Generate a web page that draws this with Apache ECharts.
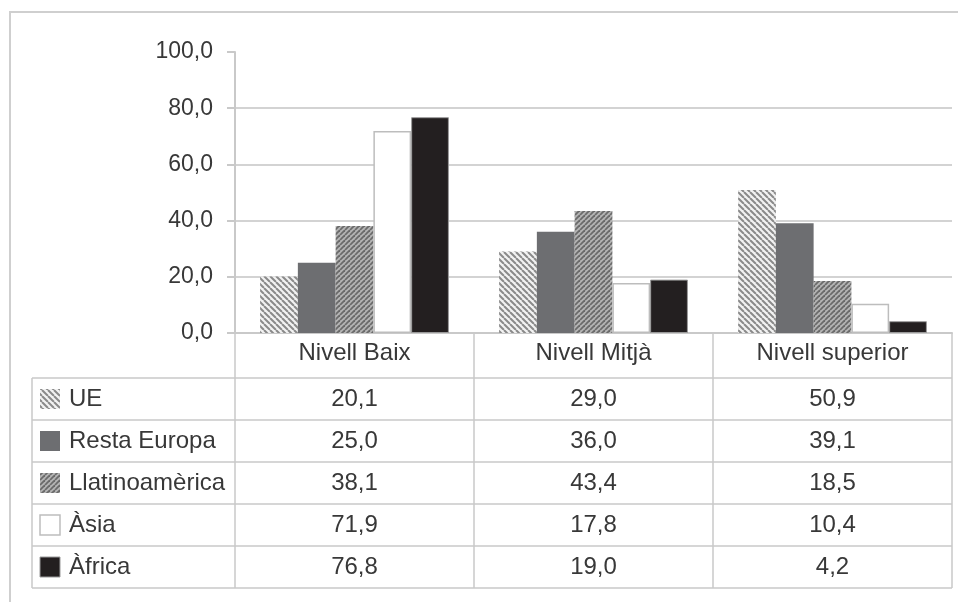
<!DOCTYPE html>
<html><head><meta charset="utf-8">
<script src="https://cdn.jsdelivr.net/npm/echarts@6/dist/echarts.min.js"></script>
<style>html,body{margin:0;padding:0;background:#fff}#c{width:958px;height:602px}</style>
</head><body><div id="c"></div>
<script>
// ---- data ----
const categories = ['Nivell Baix', 'Nivell Mitjà', 'Nivell superior'];
const seriesNames = ['UE', 'Resta Europa', 'Llatinoamèrica', 'Àsia', 'Àfrica'];
const ue = [20.1, 29.0, 50.9];
const restaEuropa = [25.0, 36.0, 39.1];
const llatinoamerica = [38.1, 43.4, 18.5];
const asia = [71.9, 17.8, 10.4];
const africa = [76.8, 19.0, 4.2];
const yMin = 0, yMax = 100, yStep = 20;

// ---- styles ----
const FONT = "'Liberation Sans', Arial, sans-serif";
const TXT = '#383838';
const LINE = '#c9c9c9';
const FS_TABLE = 24, FS_AXIS = 23;

function hatch(size, bg, fg, lw, dir) {
  const c = document.createElement('canvas');
  c.width = size; c.height = size;
  const g = c.getContext('2d');
  g.fillStyle = bg; g.fillRect(0, 0, size, size);
  g.strokeStyle = fg; g.lineWidth = lw;
  for (let k = -1; k <= 1; k++) {
    g.beginPath();
    if (dir === '\\') { g.moveTo(k * size, 0); g.lineTo(k * size + size, size); }
    else { g.moveTo(k * size + size, 0); g.lineTo(k * size, size); }
    g.stroke();
  }
  return { image: c, repeat: 'repeat' };
}
const styles = [
  { color: hatch(6, '#f2f2f2', '#8a8a8a', 2, '\\'), borderColor: 'transparent', borderWidth: 0 },
  { color: '#6d6e71', borderColor: 'transparent', borderWidth: 0 },
  { color: hatch(5, '#b4b4b4', '#6a6a6a', 1.8, '/'), borderColor: 'transparent', borderWidth: 0 },
  { color: '#ffffff', borderColor: '#bdbdbd', borderWidth: 1.5 },
  { color: '#231f20', borderColor: '#9a9a9a', borderWidth: 1 }
];
const seriesData = [ue, restaEuropa, llatinoamerica, asia, africa];

const GRID = { left: 235, right: 6, top: 52, bottom: 269 };
const TABLE_TOP = 378, ROW_H = 42, TABLE_LEFT = 32;
const TABLE_BOTTOM = TABLE_TOP + ROW_H * seriesNames.length;

const chart = echarts.init(document.getElementById('c'), null, { renderer: 'canvas' });
const fmt = v => v.toFixed(1).replace('.', ',');

chart.setOption({
  animation: false,
  backgroundColor: '#fff',
  grid: GRID,
  xAxis: {
    type: 'category', data: categories,
    axisLine: { lineStyle: { color: LINE, width: 2 } },
    axisTick: { show: true, length: TABLE_BOTTOM - (602 - GRID.bottom), lineStyle: { color: LINE, width: 1.5 } },
    axisLabel: { margin: 8, fontSize: FS_TABLE, fontFamily: FONT, color: TXT }
  },
  yAxis: {
    type: 'value', min: yMin, max: yMax, interval: yStep,
    axisLine: { show: true, lineStyle: { color: LINE, width: 2 } },
    axisTick: { show: true, length: 8, lineStyle: { color: LINE, width: 2 } },
    axisLabel: { margin: 22, fontSize: FS_AXIS, fontFamily: FONT, color: TXT, formatter: fmt },
    splitLine: { show: true, showMaxLine: false, lineStyle: { color: '#d3d3d3', width: 2 } }
  },
  series: seriesNames.map((n, i) => ({
    name: n, type: 'bar', data: seriesData[i],
    barGap: '0%', barCategoryGap: '21%',
    itemStyle: styles[i]
  }))
});

// ---- data table below the chart ----
const g = [];
g.push({ type: 'rect', shape: { x: 10, y: 12, width: 960, height: 600 }, style: { fill: 'none', stroke: '#cfcfcf', lineWidth: 2 }, z: 0 });
for (let r = 0; r <= seriesNames.length; r++) {
  const y = TABLE_TOP + r * ROW_H;
  g.push({ type: 'line', shape: { x1: TABLE_LEFT, y1: y, x2: 958 - GRID.right, y2: y }, style: { stroke: LINE, lineWidth: 1.5 } });
}
g.push({ type: 'line', shape: { x1: TABLE_LEFT, y1: TABLE_TOP, x2: TABLE_LEFT, y2: TABLE_BOTTOM }, style: { stroke: LINE, lineWidth: 1.5 } });
seriesNames.forEach((n, i) => {
  const cy = TABLE_TOP + i * ROW_H + ROW_H / 2;
  const st = styles[i];
  g.push({ type: 'rect', shape: { x: 40, y: cy - 10, width: 20, height: 20 },
    style: { fill: st.color, stroke: st.borderWidth ? st.borderColor : null, lineWidth: st.borderWidth } });
  g.push({ type: 'text', x: 69, y: cy, style: { text: n, font: FS_TABLE + 'px ' + FONT, fill: TXT, textAlign: 'left', textVerticalAlign: 'middle' } });
  categories.forEach((c, j) => {
    const cx = chart.convertToPixel({ xAxisIndex: 0 }, j);
    g.push({ type: 'text', x: cx, y: cy, style: { text: fmt(seriesData[i][j]), font: FS_TABLE + 'px ' + FONT, fill: TXT, textAlign: 'center', textVerticalAlign: 'middle' } });
  });
});
chart.setOption({ graphic: g });
</script></body></html>
